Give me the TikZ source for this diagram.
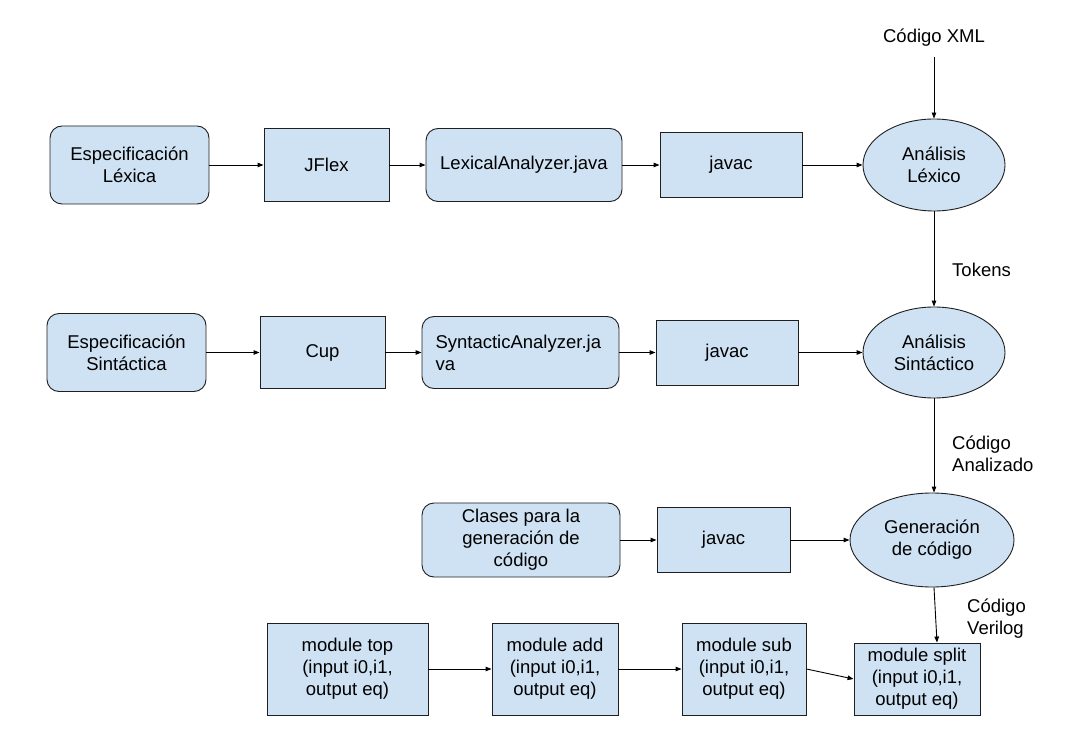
\documentclass[tikz,border=0pt]{standalone}
\usepackage{fontspec}
\setmainfont{Liberation Sans}
\usetikzlibrary{shapes.geometric,arrows.meta}
\definecolor{boxfill}{HTML}{CFE2F3}
\definecolor{boxline}{HTML}{1F1F1F}
\begin{document}
\begin{tikzpicture}[x=1pt,y=-1pt,
  base/.style={draw=boxline,fill=boxfill,line width=0.9pt,inner sep=0pt,
    font=\fontsize{18.5}{22}\selectfont,align=center},
  rbox/.style={base,rectangle,rounded corners=12pt},
  sbox/.style={base,rectangle},
  ell/.style={base,ellipse},
  lbl/.style={font=\fontsize{18.5}{22}\selectfont,align=left,inner sep=0pt},
  arr/.style={draw=black,line width=0.9pt,-{Triangle[length=6pt,width=4.5pt]}}
]
\useasboundingbox (0,0) rectangle (1074,738);
\fill[white] (0,0) rectangle (1074,738);

% Row 1
\node[rbox,minimum width=159pt,minimum height=78pt] (esp1) at (129.5,165) {Especificación\\Léxica};
\node[sbox,minimum width=125pt,minimum height=73pt] (jflex) at (326.5,165) {JFlex};
\node[rbox,minimum width=196pt,minimum height=73pt] (lex) at (524,165) {LexicalAnalyzer.java};
\node[sbox,minimum width=142pt,minimum height=65pt] (javac1) at (731,165) {javac};
\node[ell,minimum width=142pt,minimum height=92pt] (e1) at (934,165) {Análisis\\Léxico};

% Row 2
\node[rbox,minimum width=159pt,minimum height=78pt] (esp2) at (126.5,352.5) {Especificación\\Sintáctica};
\node[sbox,minimum width=125pt,minimum height=72pt] (cup) at (322.5,352.5) {Cup};
\node[rbox,minimum width=197pt,minimum height=72pt,text width=170pt,align=left] (syn) at (520.5,352.5) {SyntacticAnalyzer.ja\\va};
\node[sbox,minimum width=142pt,minimum height=65pt] (javac2) at (727,352.5) {javac};
\node[ell,minimum width=142pt,minimum height=91pt] (e2) at (934,352.5) {Análisis\\Sintáctico};

% Row 3
\node[rbox,minimum width=198pt,minimum height=74pt] (clases) at (521,540) {Clases para la\\generación de\\código};
\node[sbox,minimum width=133pt,minimum height=65pt] (javac3) at (723.5,540) {javac};
\node[ell,minimum width=164pt,minimum height=94pt] (e3) at (932,540) {Generación\\de código};

% Row 4
\node[sbox,minimum width=161pt,minimum height=92pt] (mtop) at (347.5,669) {module top\\(input i0,i1,\\output eq)};
\node[sbox,minimum width=126pt,minimum height=92pt] (madd) at (555,669) {module add\\(input i0,i1,\\output eq)};
\node[sbox,minimum width=124pt,minimum height=92pt] (msub) at (744,669) {module sub\\(input i0,i1,\\output eq)};
\node[sbox,minimum width=126pt,minimum height=72pt] (msplit) at (917,679) {module split\\(input i0,i1,\\output eq)};

% Labels
\node[lbl,align=center] (xml) at (934,38) {Código XML};
\coordinate (xmlend) at (934,57);
\node[lbl,anchor=west] (tok) at (952,270) {Tokens};
\node[lbl,anchor=west] (anal) at (952,454) {Código\\Analizado};
\node[lbl,anchor=west] (veri) at (967,619) {Código\\Verilog};

% Connectors
\draw[arr] (esp1) -- (jflex);
\draw[arr] (jflex) -- (lex);
\draw[arr] (lex) -- (javac1);
\draw[arr] (javac1) -- (e1);
\draw[arr] (xmlend) -- (e1.north);
\draw[arr] (e1.south) -- (e2.north);

\draw[arr] (esp2) -- (cup);
\draw[arr] (cup) -- (syn);
\draw[arr] (syn) -- (javac2);
\draw[arr] (javac2) -- (e2);
\draw[arr] (e2.south) -- (e3.north -| e2.south);

\draw[arr] (clases) -- (javac3);
\draw[arr] (javac3) -- (e3);
\draw[arr] (e3.south -| e1.south) -- ([xshift=3pt]msplit.north -| e1.south);

\draw[arr] (mtop) -- (madd);
\draw[arr] (madd) -- (msub);
\draw[arr] (msub.east) -- (msplit.west);
\end{tikzpicture}
\end{document}
